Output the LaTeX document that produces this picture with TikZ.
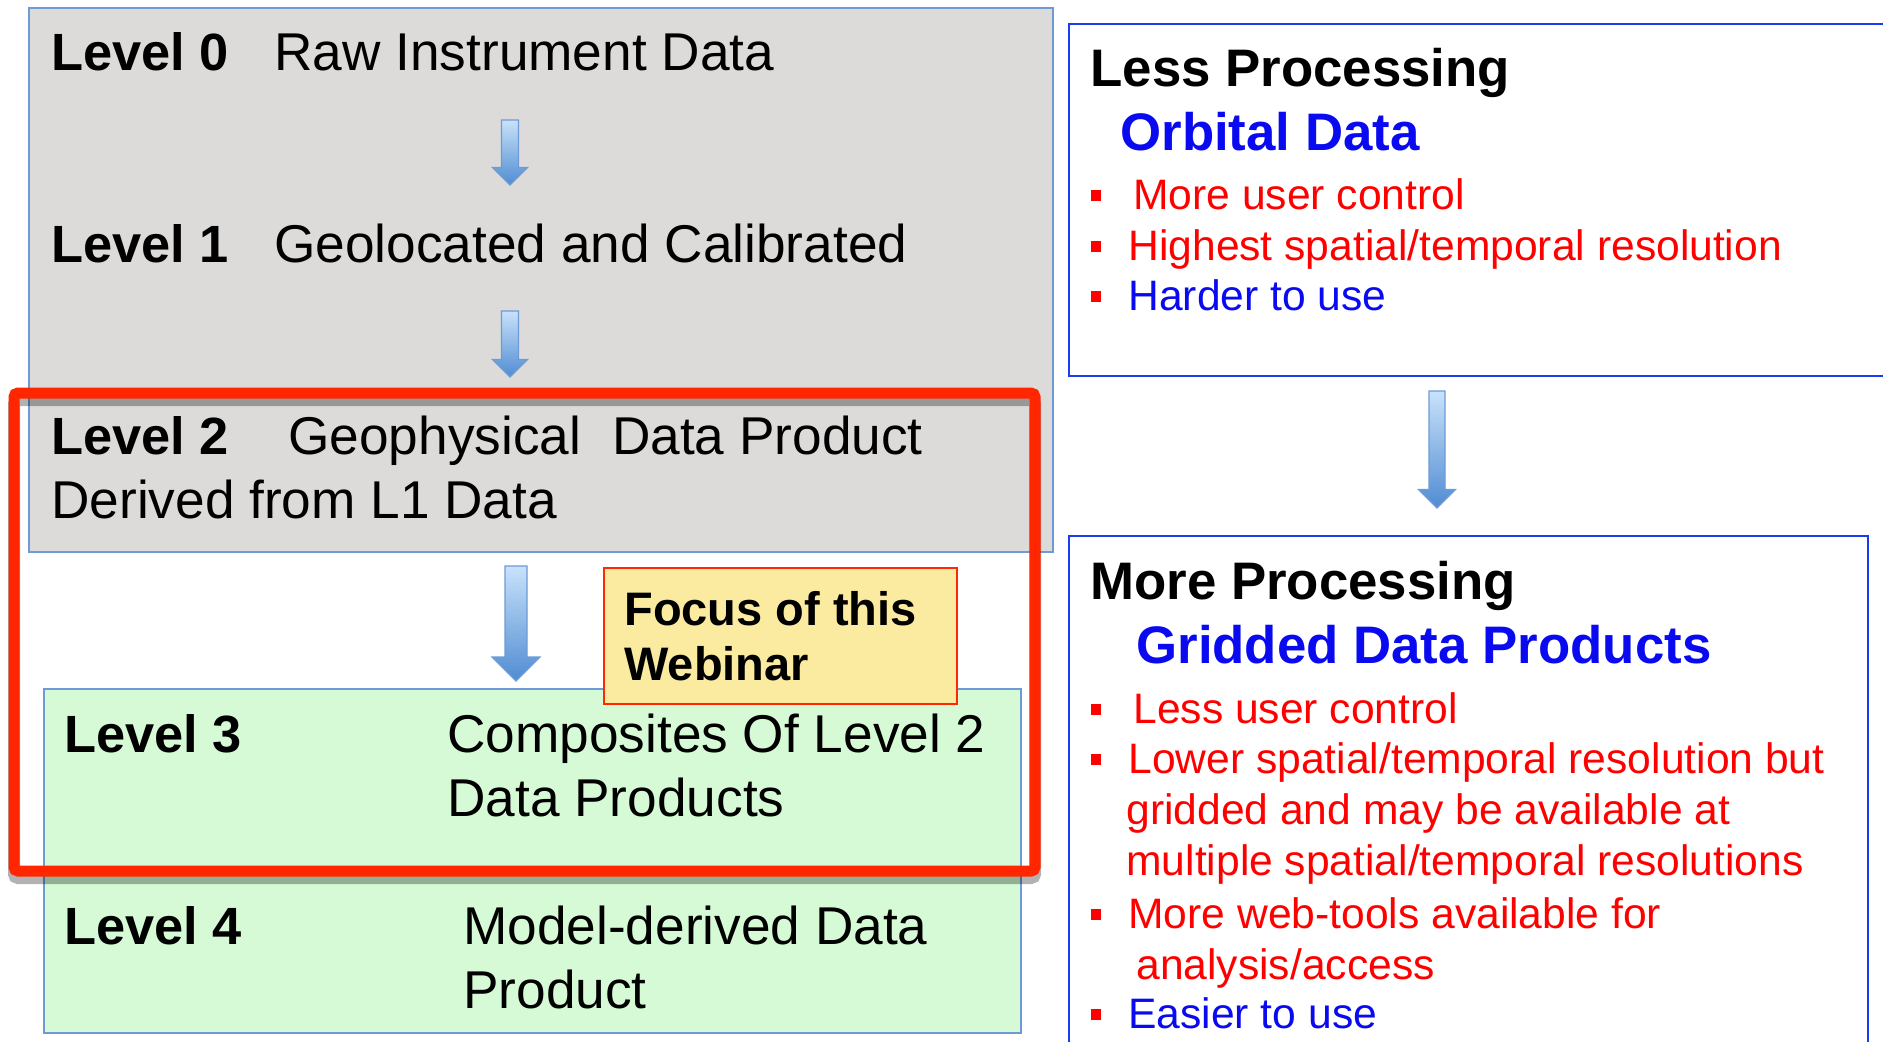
\documentclass[tikz,border=0pt]{standalone}
\usepackage{fontspec}
\setmainfont{Liberation Sans}
\usepackage{xcolor}
\usepackage{tikz}
\usetikzlibrary{calc}
\definecolor{lvGray}{RGB}{220,219,218}
\definecolor{lvGreen}{RGB}{213,250,213}
\definecolor{lvEdge}{RGB}{110,155,215}
\definecolor{fcFill}{RGB}{250,235,160}
\definecolor{fcEdge}{RGB}{255,40,0}
\definecolor{rdFrame}{RGB}{255,38,0}
\definecolor{bxBlue}{RGB}{25,60,240}
\definecolor{txBlue}{RGB}{10,10,240}
\definecolor{txRed}{RGB}{255,0,0}
\definecolor{arTop}{RGB}{200,226,250}
\definecolor{arBot}{RGB}{80,140,210}

% block arrow from #1 down to #2, shaft half width #3, head half width #4
\newcommand{\blockarr}[4]{%
  \draw[barr] ($(#1)+(-#3,0)$) -- ($(#2)+(-#3,-#4)$) -- ($(#2)+(-#4,-#4)$)
    -- (#2) -- ($(#2)+(#4,-#4)$) -- ($(#2)+(#3,-#4)$) -- ($(#1)+(#3,0)$) -- cycle;}

\begin{document}
\begin{tikzpicture}[x=0.5pt, y=-0.5pt,
    lvbox/.style={draw=lvEdge, line width=0.75pt, inner sep=0},
    sidebox/.style={draw=bxBlue, line width=1.3pt, fill=white, inner sep=0},
    lvl/.style={anchor=base west, inner sep=0, font=\fontsize{26.2}{31}\selectfont\bfseries},
    lvtxt/.style={anchor=base west, inner sep=0, font=\fontsize{26.6}{31}\selectfont},
    head/.style={anchor=base west, inner sep=0, font=\fontsize{26.4}{31}\selectfont\bfseries},
    itm/.style={anchor=base west, inner sep=0, text=txRed, font=\fontsize{21.3}{25}\selectfont},
    sq/.style={fill=txRed, inner sep=0, minimum width=5pt, minimum height=5.5pt},
    barr/.style={draw=lvEdge, line width=0.6pt, top color=arTop, bottom color=arBot}
  ]
  \useasboundingbox (0,0) rectangle (1883,1041);
  \clip (0,0) rectangle (1883,1041);
  \fill[white] (0,0) rectangle (1883,1041);

  % processing levels
  \node[lvbox, fill=lvGray, minimum width=512pt, minimum height=272pt] (gray) at (541,280) {};
  \node[lvbox, fill=lvGreen, minimum width=488.5pt, minimum height=172pt] (green) at (532.5,861) {};

  \node[lvl] (l0) at (51,70) {Level 0};
  \node[lvtxt] (l0t) at (274,70) {Raw Instrument Data};
  \node[lvl] (l1) at (51,262) {Level 1};
  \node[lvtxt] (l1t) at (274,262) {Geolocated and Calibrated};
  \node[lvl] (l2) at (51,454) {Level 2};
  \node[lvtxt] (l2t) at (288,454) {Geophysical\hspace{15.5pt}Data Product};
  \node[lvtxt] (l2u) at (51,518) {Derived from L1 Data};
  \node[lvl] (l3) at (64,752) {Level 3};
  \node[lvtxt] (l3t) at (447,752) {Composites Of Level 2};
  \node[lvtxt] (l3u) at (447,816) {Data Products};
  \node[lvl] (l4) at (64,944) {Level 4};
  \node[lvtxt] (l4t) at (463,944) {Model-derived Data};
  \node[lvtxt] (l4u) at (463,1008) {Product};

  \coordinate (a1s) at (510,120);  \coordinate (a1e) at (510,185);
  \coordinate (a2s) at (510,311);  \coordinate (a2e) at (510,377);
  \coordinate (a3s) at (516,566);  \coordinate (a3e) at (516,681);
  \blockarr{a1s}{a1e}{8.5}{17.5}
  \blockarr{a2s}{a2e}{8.5}{17.5}
  \blockarr{a3s}{a3e}{11}{24}

  \node[draw=fcEdge, line width=0.6pt, fill=fcFill, inner sep=0,
        minimum width=176.5pt, minimum height=68pt] (focus) at (780.5,636) {};
  \node[anchor=base west, inner sep=0, font=\fontsize{23.5}{28}\selectfont\bfseries] (fc1) at (624,625) {Focus of this};
  \node[anchor=base west, inner sep=0, font=\fontsize{23.5}{28}\selectfont\bfseries] (fc2) at (624,680) {Webinar};

  % red frame with its shadow
  \draw[black, opacity=0.3, line width=6pt, rounded corners=2pt] (14,400) rectangle (1035,878);
  \node[draw=rdFrame, line width=5.5pt, rounded corners=2pt, inner sep=0,
        minimum width=510.5pt, minimum height=239pt] (frame) at (524.5,632) {};

  % right column
  \node[sidebox, minimum width=415.5pt, minimum height=176pt] (less) at (1484.5,200) {};
  \node[sidebox, minimum width=399.5pt, minimum height=262pt] (more) at (1468.5,798) {};

  \node[head] (lh) at (1090,86) {Less Processing};
  \node[head, text=txBlue] (ls) at (1120,150) {Orbital Data};
  \node[sq] (lb1) at (1096,195) {};
  \node[itm] (li1) at (1133,209) {More user control};
  \node[sq] (lb2) at (1096,246) {};
  \node[itm] (li2) at (1128,260) {Highest spatial/temporal resolution};
  \node[sq] (lb3) at (1096,296) {};
  \node[itm, text=txBlue] (li3) at (1128,310) {Harder to use};

  \node[head] (mh) at (1090,599) {More Processing};
  \node[head, text=txBlue] (ms) at (1136,663) {Gridded Data Products};
  \node[sq] (mb1) at (1096,709) {};
  \node[itm] (mi1) at (1133,723) {Less user control};
  \node[sq] (mb2) at (1096,759) {};
  \node[itm] (mi2) at (1128,773) {Lower spatial/temporal resolution but};
  \node[itm] (mi2b) at (1126,824) {gridded and may be available at};
  \node[itm] (mi2c) at (1126,875) {multiple spatial/temporal resolutions};
  \node[sq] (mb3) at (1096,914) {};
  \node[itm] (mi3) at (1128,928) {More web-tools available for};
  \node[itm] (mi3b) at (1136,979) {analysis/access};
  \node[sq] (mb4) at (1096,1014) {};
  \node[itm, text=txBlue] (mi4) at (1128,1028) {Easier to use};

  \coordinate (a4s) at (1437,391);  \coordinate (a4e) at (1437,508);
  \blockarr{a4s}{a4e}{8}{18.5}
\end{tikzpicture}
\end{document}
